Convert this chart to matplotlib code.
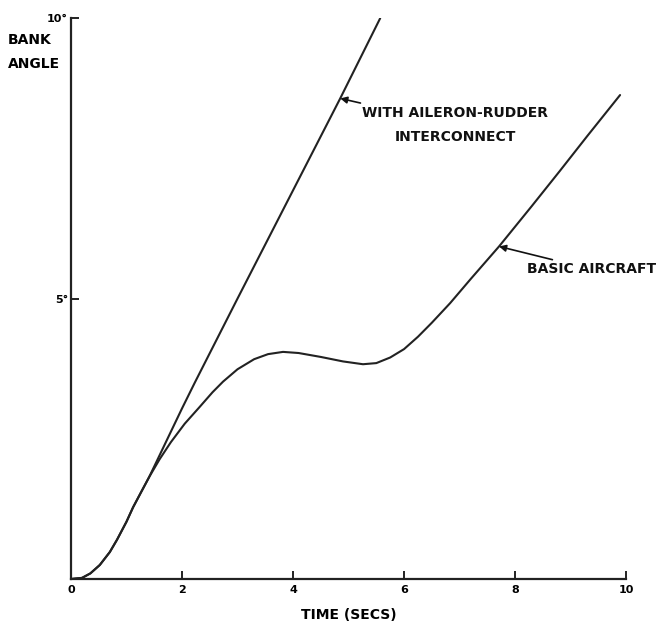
import numpy as np
import matplotlib
matplotlib.use("Agg")
import matplotlib.pyplot as plt

# time (secs) and bank angle (deg)
t_inter = [0.0, 0.2, 0.35, 0.52, 0.7, 0.83, 1.0, 1.12, 1.27, 1.41,
           1.7, 2.0, 2.23, 3.0, 4.0, 4.85, 5.57]
y_inter = [0.0, 0.02, 0.1, 0.25, 0.48, 0.70, 1.02, 1.28, 1.56, 1.82,
           2.42, 3.04, 3.5, 5.0, 6.93, 8.57, 10.0]

t_basic = [0.0, 0.2, 0.35, 0.52, 0.7, 0.83, 1.0, 1.12, 1.27, 1.41,
           1.6, 1.8, 2.05, 2.32, 2.55, 2.74, 3.0, 3.3, 3.55, 3.82, 4.1,
           4.5, 4.9, 5.26, 5.5, 5.75, 6.0, 6.25, 6.5, 6.83, 7.2, 7.71,
           8.3, 8.8, 9.3, 9.89]
y_basic = [0.0, 0.02, 0.1, 0.25, 0.48, 0.70, 1.02, 1.28, 1.56, 1.82,
           2.14, 2.44, 2.77, 3.07, 3.33, 3.52, 3.74, 3.92, 4.01, 4.05, 4.03,
           3.96, 3.88, 3.83, 3.85, 3.95, 4.1, 4.32, 4.57, 4.92, 5.35, 5.93,
           6.65, 7.27, 7.9, 8.63]

x_ticks = [0, 2, 4, 6, 8, 10]
y_ticks = [5, 10]
y_ticklabels = ["5°", "10°"]

fig = plt.figure(figsize=(6.69, 6.28), dpi=100)
ax = fig.add_axes([0.106, 0.078, 0.83, 0.893])

ax.plot(t_inter, y_inter, color="#222222", lw=1.5, solid_capstyle="round")
ax.plot(t_basic, y_basic, color="#222222", lw=1.5, solid_capstyle="round")

ax.set_xlim(0, 10)
ax.set_ylim(0, 10)
for s in ["top", "right"]:
    ax.spines[s].set_visible(False)
for s in ["left", "bottom"]:
    ax.spines[s].set_linewidth(1.6)
    ax.spines[s].set_color("#222222")

ax.set_xticks(x_ticks)
ax.set_xticklabels([str(v) for v in x_ticks], fontsize=8, fontweight="bold")
ax.set_yticks(y_ticks)
ax.set_yticklabels(y_ticklabels, fontsize=8, fontweight="bold")
ax.tick_params(axis="both", direction="in", length=6, width=1.4, color="#222222")
ax.tick_params(axis="x", pad=4)
ax.tick_params(axis="y", pad=2)

ax.set_xlabel("TIME (SECS)", fontsize=10, fontweight="bold", labelpad=10)
fig.text(0.012, 0.948, "BANK\nANGLE", fontsize=10, fontweight="bold",
         ha="left", va="top", linespacing=1.9)

txt = dict(fontsize=10, fontweight="bold", color="#111111")
ax.annotate("WITH AILERON-RUDDER\nINTERCONNECT", xy=(4.85, 8.57), xytext=(5.25, 8.1),
            ha="left", va="center", multialignment="center", linespacing=1.9,
            arrowprops=dict(arrowstyle="-|>", color="#111111", lw=1.2, mutation_scale=10,
                            shrinkA=0, shrinkB=0),
            **txt)
ax.annotate("BASIC AIRCRAFT", xy=(7.71, 5.93), xytext=(8.22, 5.52),
            ha="left", va="center",
            arrowprops=dict(arrowstyle="-|>", color="#111111", lw=1.2, mutation_scale=10,
                            shrinkA=0, shrinkB=0),
            annotation_clip=False, **txt)

fig.savefig("out.png", dpi=100)
